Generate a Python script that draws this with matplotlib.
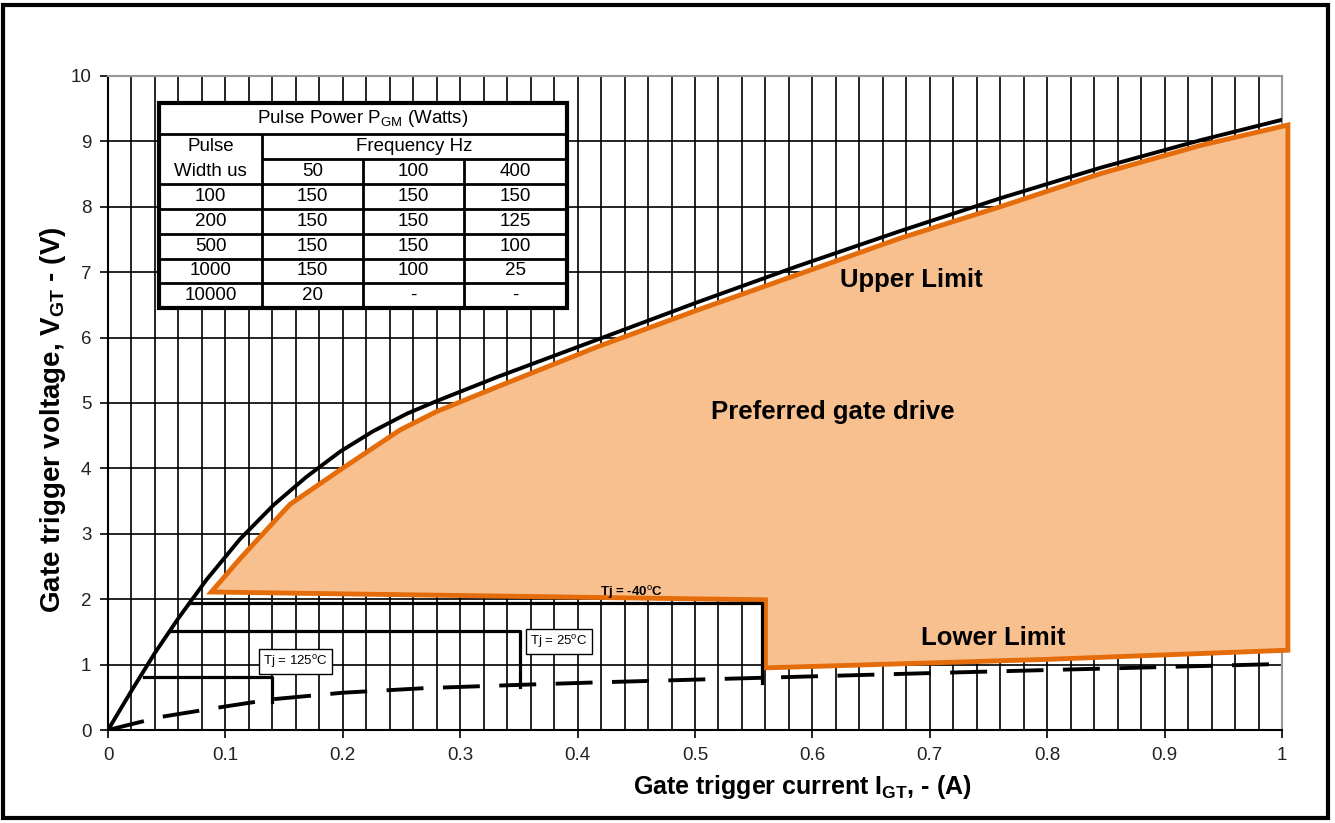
import matplotlib
matplotlib.use('Agg')
import matplotlib.pyplot as plt
from matplotlib.patches import Rectangle
from matplotlib.ticker import MultipleLocator

plt.rcParams['font.family'] = ['Liberation Sans', 'DejaVu Sans']
plt.rcParams['mathtext.fontset'] = 'custom'
plt.rcParams['mathtext.rm'] = 'Liberation Sans'
plt.rcParams['mathtext.bf'] = 'Liberation Sans:bold'

# upper limit curve (black, solid)
upper_i = [0, 0.02, 0.04, 0.06, 0.084, 0.1125, 0.141, 0.169, 0.198, 0.226, 0.255,
           0.28, 0.332, 0.417, 0.502, 0.587, 0.675, 0.76, 0.846, 0.931, 1.0]
upper_v = [0, 0.6, 1.18, 1.71, 2.30, 2.92, 3.44, 3.87, 4.26, 4.57, 4.84,
           5.03, 5.40, 5.97, 6.54, 7.09, 7.63, 8.13, 8.6, 9.02, 9.33]

# lower limit curve (black, dashed)
lower_i = [0, 0.045, 0.1, 0.14, 0.2, 0.27, 0.35, 0.42, 0.5, 0.56, 0.7, 0.85, 1.0]
lower_v = [0, 0.2, 0.36, 0.47, 0.57, 0.64, 0.69, 0.73, 0.77, 0.8, 0.87, 0.94, 1.01]

# preferred gate drive region (orange)
pref_i = [0.088, 0.1125, 0.155, 0.198, 0.249, 0.28, 0.332, 0.417, 0.502, 0.587,
          0.675, 0.76, 0.846, 0.931, 1.005, 1.005, 0.8, 0.56, 0.56]
pref_v = [2.11, 2.62, 3.45, 3.98, 4.59, 4.87, 5.25, 5.86, 6.42, 6.96,
          7.52, 8.0, 8.51, 8.94, 9.25, 1.22, 1.08, 0.95, 1.99]

# junction temperature steps
tj_names = ['-40', '25', '125']
tj_level = [1.94, 1.51, 0.81]
tj_start = [0.069, 0.054, 0.031]
tj_end = [0.557, 0.351, 0.140]
tj_drop = [0.72, 0.66, 0.43]
tj_label_x = [0.446, 0.384, 0.16]
tj_label_y = [2.1, 1.35, 1.05]

# pulse power table
freq_hz = ['50', '100', '400']
pulse_width = ['100', '200', '500', '1000', '10000']
pulse_power = [['150', '150', '150'],
               ['150', '150', '125'],
               ['150', '150', '100'],
               ['150', '100', '25'],
               ['20', '-', '-']]

x_ticks = [0, 0.1, 0.2, 0.3, 0.4, 0.5, 0.6, 0.7, 0.8, 0.9, 1]
x_tick_labels = ['0', '0.1', '0.2', '0.3', '0.4', '0.5', '0.6', '0.7', '0.8', '0.9', '1']
y_ticks = list(range(0, 11))

fig = plt.figure(figsize=(13.35, 8.23), dpi=100)
ax = fig.add_axes([0.0809, 0.1130, 0.8794, 0.7947])

ax.set_xlim(0, 1)
ax.set_ylim(0, 10)
ax.set_xticks(x_ticks)
ax.set_xticklabels(x_tick_labels)
ax.set_yticks(y_ticks)
ax.xaxis.set_minor_locator(MultipleLocator(0.02))
ax.tick_params(which='major', direction='out', length=6, width=1.2, labelsize=13.5,
               pad=6, labelcolor='#222222')
ax.tick_params(which='minor', length=0)
ax.grid(which='both', axis='x', color='black', lw=1.2, zorder=0)
ax.grid(which='major', axis='y', color='black', lw=1.2, zorder=0)
ax.set_axisbelow(True)
for side in ['left', 'bottom']:
    ax.spines[side].set_linewidth(1.5)
for side in ['top', 'right']:
    ax.spines[side].set_color('#999999')
    ax.spines[side].set_linewidth(1.5)

ax.fill(pref_i, pref_v, facecolor='#F9C08F', edgecolor='#E46C0A', lw=3.5,
        zorder=3, clip_on=False)
ax.plot(upper_i, upper_v, color='black', lw=2.8, zorder=4)
ax.plot(lower_i, lower_v, color='black', lw=2.8, dashes=(9.5, 5), zorder=2)

for k in range(len(tj_names)):
    ax.plot([tj_start[k], tj_end[k], tj_end[k]],
            [tj_level[k], tj_level[k], tj_drop[k]],
            color='black', lw=2.3, zorder=4)
    label = 'Tj = ' + tj_names[k] + r'$^{\mathrm{o}}$C'
    if k == 0:
        ax.text(tj_label_x[k], tj_label_y[k], label, fontsize=9.5, fontweight='bold',
                ha='center', va='center', zorder=5)
    else:
        ax.text(tj_label_x[k], tj_label_y[k], label, fontsize=9.5,
                ha='center', va='center', zorder=5,
                bbox=dict(boxstyle='square,pad=0.3', facecolor='white',
                          edgecolor='black', lw=1))

ax.text(0.684, 6.88, 'Upper Limit', fontsize=18.5, fontweight='bold',
        ha='center', va='center', zorder=5)
ax.text(0.617, 4.86, 'Preferred gate drive', fontsize=18.5, fontweight='bold',
        ha='center', va='center', zorder=5)
ax.text(0.754, 1.41, 'Lower Limit', fontsize=18.5, fontweight='bold',
        ha='center', va='center', zorder=5)

ax.set_xlabel(r'Gate trigger current I$_{\mathbf{GT}}$, - (A)', fontsize=18,
              fontweight='bold', labelpad=7)
ax.set_ylabel(r'Gate trigger voltage, V$_{\mathbf{GT}}$ - (V)', fontsize=20,
              fontweight='bold', labelpad=2)
ax.xaxis.label.set_x(0.591)
ax.yaxis.label.set_y(0.474)

# table, drawn in axes fractions
col_edges = [0.0434, 0.1312, 0.2172, 0.3032, 0.3910]
row_edges = [0.9587, 0.9113, 0.8731, 0.8349, 0.7966, 0.7584, 0.7202, 0.6835, 0.6453]
t = ax.transAxes
tl, tr = col_edges[0], col_edges[-1]
tt, tb = row_edges[0], row_edges[-1]
ax.add_patch(Rectangle((tl, tb), tr - tl, tt - tb, transform=t, facecolor='white',
                       edgecolor='black', lw=3, zorder=6))


def hline(y, x0, x1):
    ax.plot([x0, x1], [y, y], transform=t, color='black', lw=2, zorder=7,
            solid_capstyle='butt')


def vline(x, y0, y1):
    ax.plot([x, x], [y0, y1], transform=t, color='black', lw=2, zorder=7,
            solid_capstyle='butt')


hline(row_edges[1], tl, tr)
hline(row_edges[2], col_edges[1], tr)
for y in row_edges[3:-1]:
    hline(y, tl, tr)
vline(col_edges[1], row_edges[1], tb)
for x in col_edges[2:4]:
    vline(x, row_edges[2], tb)


def cell_text(x, y, s):
    ax.text(x, y, s, transform=t, fontsize=13.5, ha='center', va='center', zorder=8)


cell_text((tl + tr) / 2, (row_edges[0] + row_edges[1]) / 2,
          r'Pulse Power P$_{\mathrm{GM}}$ (Watts)')
cell_text((tl + col_edges[1]) / 2, (row_edges[1] + row_edges[2]) / 2, 'Pulse')
cell_text((tl + col_edges[1]) / 2, (row_edges[2] + row_edges[3]) / 2, 'Width us')
cell_text((col_edges[1] + tr) / 2, (row_edges[1] + row_edges[2]) / 2, 'Frequency Hz')
for j, f in enumerate(freq_hz):
    cell_text((col_edges[j + 1] + col_edges[j + 2]) / 2,
              (row_edges[2] + row_edges[3]) / 2, f)
for i, w in enumerate(pulse_width):
    yc = (row_edges[i + 3] + row_edges[i + 4]) / 2
    cell_text((col_edges[0] + col_edges[1]) / 2, yc, w)
    for j, p in enumerate(pulse_power[i]):
        cell_text((col_edges[j + 1] + col_edges[j + 2]) / 2, yc, p)

# outer frame round the whole picture
fig.add_artist(Rectangle((0.002, 0.006), 0.9928, 0.9879, transform=fig.transFigure,
                         fill=False, edgecolor='black', lw=3))

fig.savefig('out.png', dpi=100)
